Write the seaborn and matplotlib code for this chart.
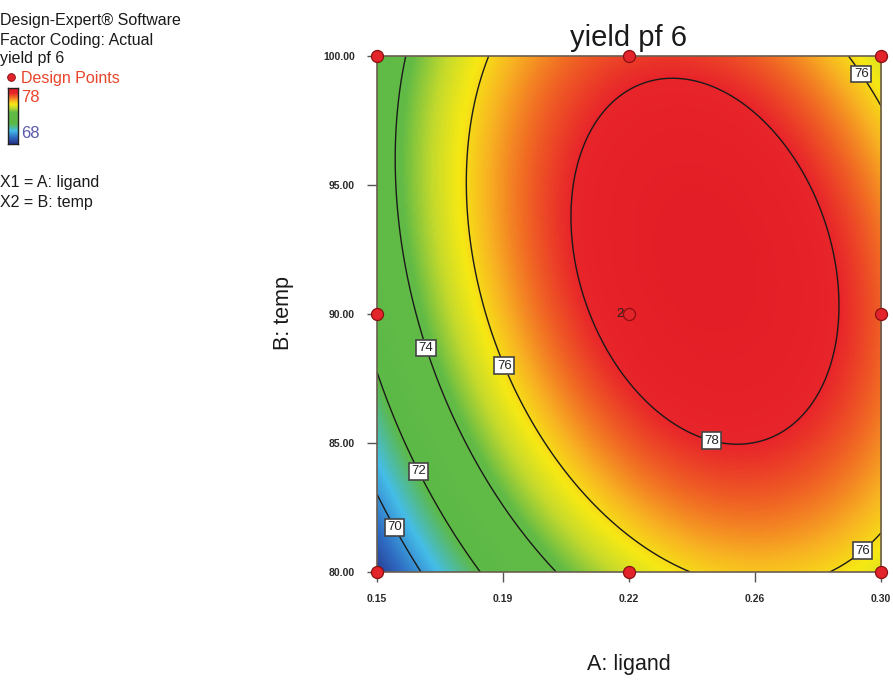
import numpy as np
import pandas as pd
import matplotlib
matplotlib.use("Agg")
import matplotlib.pyplot as plt
import seaborn as sns
from matplotlib.colors import LinearSegmentedColormap, Normalize
from matplotlib.lines import Line2D

# Design points (A: ligand, B: temp), with replicate counts
ligand = [0.15, 0.15, 0.15, 0.225, 0.225, 0.225, 0.30, 0.30, 0.30]
temp = [80, 90, 100, 80, 90, 100, 80, 90, 100]
reps = [1, 1, 1, 1, 2, 1, 1, 1, 1]

# Quadratic model in coded units: b0, A, B, AB, A^2, B^2
coefs = [78.448, 2.342, 1.174, -1.256, -3.460, -1.945]
levels = [70, 72, 74, 76, 78]

x_ticks = [0.15, 0.1875, 0.225, 0.2625, 0.30]
x_tick_labels = ["0.15", "0.19", "0.22", "0.26", "0.30"]
y_ticks = [80, 85, 90, 95, 100]
y_tick_labels = ["80.00", "85.00", "90.00", "95.00", "100.00"]

# Label spots for contour labels (actual units)
label_spots = [(0.156, 81.8), (0.163, 83.95), (0.165, 88.7), (0.188, 88.0),
               (0.2497, 85.2), (0.2952, 99.4), (0.293, 81.05)]

sns.set_theme(style="white")
plt.rcParams["font.family"] = ["Liberation Sans", "DejaVu Sans"]

vmin, vmax = 68.0, 78.95
stops = [(68.0, "#26338c"), (69.3, "#2f6fc4"), (70.6, "#45bde8"), (71.9, "#5cb947"),
         (74.2, "#62bb46"), (75.1, "#c5da2c"), (75.8, "#f6e914"), (76.5, "#f8b222"),
         (77.3, "#f06424"), (78.0, "#e8252a"), (78.95, "#e41e26")]
cmap = LinearSegmentedColormap.from_list(
    "de", [((v - vmin) / (vmax - vmin), c) for v, c in stops])

def model(x, t):
    a = (x - 0.225) / 0.075
    b = (t - 90) / 10
    return (coefs[0] + coefs[1] * a + coefs[2] * b + coefs[3] * a * b
            + coefs[4] * a * a + coefs[5] * b * b)

gx, gt = np.meshgrid(np.linspace(0.15, 0.30, 400), np.linspace(80, 100, 400))
gz = model(gx, gt)

fig = plt.figure(figsize=(8.93, 6.82), dpi=100)
ax = fig.add_axes([0.4222, 0.1613, 0.5644, 0.7566])

ax.imshow(gz, extent=[0.15, 0.30, 80, 100], origin="lower", aspect="auto",
          cmap=cmap, norm=Normalize(vmin, vmax), interpolation="bilinear")
cs = ax.contour(gx, gt, gz, levels=levels, colors="#1a1a1a", linewidths=1.0)
labs = ax.clabel(cs, fmt="%d", fontsize=9.5, inline=True, inline_spacing=2,
                 manual=label_spots)
for t in labs:
    t.set_rotation(0)
    t.set_color("#222222")
    t.set_bbox(dict(facecolor="white", edgecolor="#444444", boxstyle="square,pad=0.18", linewidth=1.2))

pts = pd.DataFrame({"ligand": ligand, "temp": temp, "reps": reps})
sns.scatterplot(data=pts, x="ligand", y="temp", ax=ax, s=75, color="#e3242b",
                edgecolor="#8b1010", linewidth=0.9, clip_on=False, zorder=5, legend=False)
for _, r in pts[pts["reps"] > 1].iterrows():
    ax.text(r["ligand"] - 0.0017, r["temp"], str(int(r["reps"])), ha="right", va="center",
            fontsize=9.5, color="#222222", zorder=6)

ax.set_xlim(0.15, 0.30)
ax.set_ylim(80, 100)
ax.set_xticks(x_ticks)
ax.set_xticklabels(x_tick_labels)
ax.set_yticks(y_ticks)
ax.set_yticklabels(y_tick_labels)
ax.tick_params(axis="both", direction="out", length=7, width=1, color="#555555",
               labelsize=7.5, labelcolor="#2a2a2a", pad=9, bottom=True, left=True)
for lab in ax.get_xticklabels() + ax.get_yticklabels():
    lab.set_fontweight("bold")
for s in ax.spines.values():
    s.set_color("#6b5e50")
    s.set_linewidth(1.2)
ax.set_xlabel("")
ax.set_ylabel("")

fig.text(0.704, 0.944, "yield pf 6", ha="center", va="center", fontsize=21, color="#1a1a1a")
fig.text(0.704, 0.025, "A: ligand", ha="center", va="center", fontsize=15.5, color="#1a1a1a")
fig.text(0.317, 0.541, "B: temp", ha="center", va="center", fontsize=15.5, rotation=90, color="#1a1a1a")

# Left-hand legend block
fs = 11.5
fig.text(0.0, 1 - 20 / 682, "Design-Expert® Software", ha="left", va="center", fontsize=fs, color="#1a1a1a")
fig.text(0.0, 1 - 40 / 682, "Factor Coding: Actual", ha="left", va="center", fontsize=fs, color="#1a1a1a")
fig.text(0.0, 1 - 59 / 682, "yield pf 6", ha="left", va="center", fontsize=fs, color="#1a1a1a")
fig.text(0.024, 1 - 78 / 682, "Design Points", ha="left", va="center", fontsize=fs, color="#e8452a")
fig.text(0.024, 1 - 98 / 682, "78", ha="left", va="center", fontsize=12, color="#e8452a")
fig.text(0.024, 1 - 133 / 682, "68", ha="left", va="center", fontsize=12, color="#5a5aaa")
fig.text(0.0, 1 - 183 / 682, "X1 = A: ligand", ha="left", va="center", fontsize=fs, color="#1a1a1a")
fig.text(0.0, 1 - 202 / 682, "X2 = B: temp", ha="left", va="center", fontsize=fs, color="#1a1a1a")
fig.add_artist(Line2D([11 / 893], [1 - 77 / 682], marker="o", markersize=5.5,
                      markerfacecolor="#e3242b", markeredgecolor="#8b1010",
                      markeredgewidth=0.7, linestyle="none", transform=fig.transFigure))

cax = fig.add_axes([8 / 893, 1 - 144 / 682, 10 / 893, 56 / 682])
cax.imshow(np.linspace(vmax, vmin, 100).reshape(-1, 1), aspect="auto", cmap=cmap,
           norm=Normalize(vmin, vmax))
cax.set_xticks([])
cax.set_yticks([])
for s in cax.spines.values():
    s.set_color("#222222")
    s.set_linewidth(1.0)

fig.savefig("out.png", dpi=100)
